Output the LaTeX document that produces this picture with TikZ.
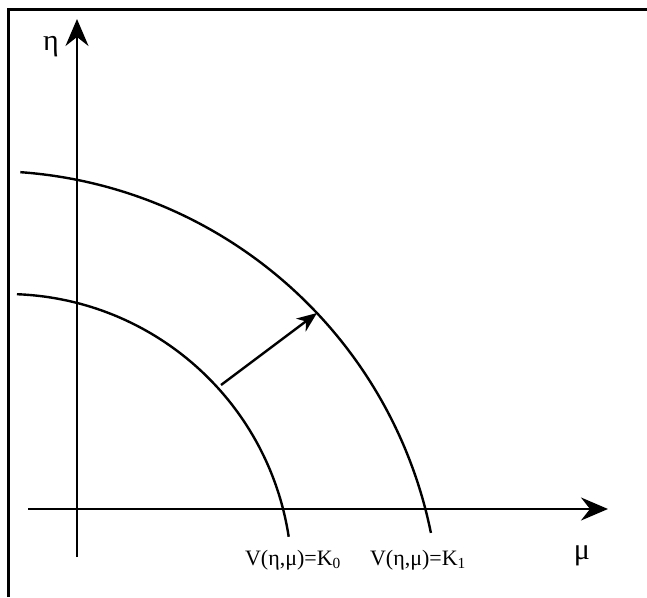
\documentclass[tikz,border=0pt]{standalone}
\usepackage{fontspec}
\setmainfont{Liberation Serif}
\usetikzlibrary{arrows.meta}
\begin{document}
\begin{tikzpicture}[x=1pt,y=1pt,
  axis/.style={line width=2.6pt,-{Stealth[length=27pt,width=23pt,inset=9pt]}},
  curve/.style={line width=2.4pt},
  flow/.style={line width=2.4pt,-{Stealth[length=20pt,width=16pt,inset=6pt]}},
  frame/.style={line width=3pt},
  axlab/.style={font=\fontsize{30}{32}\selectfont,inner sep=0pt},
  lvl/.style={font=\fontsize{22}{24}\selectfont,anchor=base,inner sep=0pt}]
\useasboundingbox (0,0) rectangle (647,597);
\coordinate (fb) at (8,0);
\coordinate (fc) at (8,587);
\coordinate (fr) at (647,587);
\draw[frame] (fb) -- (fc) -- (fr);
\coordinate (ybot) at (77,40);
\coordinate (ytop) at (77,578);
\coordinate (xleft) at (28,88);
\coordinate (xright) at (608,88);
\draw[axis] (ybot) -- (ytop);
\draw[axis] (xleft) -- (xright);
\draw[curve] ([shift={(6,17)}]87.8:286) arc[start angle=87.8,end angle=8.7,radius=286];
\draw[curve] ([shift={(-12,-26)}]85.9:452) arc[start angle=85.9,end angle=11.5,radius=452];
\coordinate (atail) at (221,212);
\coordinate (ahead) at (317,284);
\draw[flow] (atail) -- (ahead);
\node[axlab] (eta) at (51,550) {η};
\node[axlab] (mu) at (582,41) {μ};
\node[lvl] (k0) at (293,32) {V(η,μ)=K\textsubscript{0}};
\node[lvl] (k1) at (418,32) {V(η,μ)=K\textsubscript{1}};
\end{tikzpicture}
\end{document}
